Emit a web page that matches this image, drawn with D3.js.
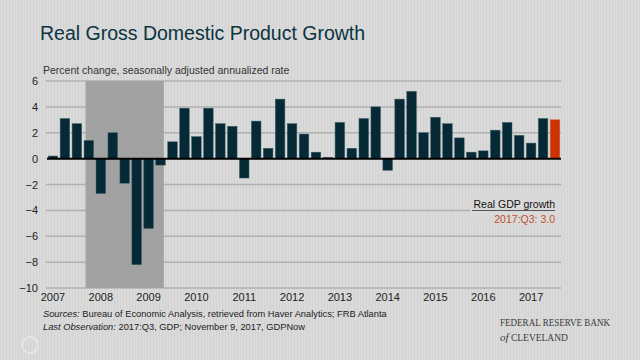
<!DOCTYPE html>
<html>
<head>
<meta charset="utf-8">
<script src="https://cdn.jsdelivr.net/npm/d3@7"></script>
<style>
  html, body { margin: 0; padding: 0; background: #d9d9d9; }
  svg { display: block; }
</style>
</head>
<body>
<svg id="chart" width="640" height="360"></svg>
<script>
// ---- data ----
const quarters = [
  "2007:Q1","2007:Q2","2007:Q3","2007:Q4",
  "2008:Q1","2008:Q2","2008:Q3","2008:Q4",
  "2009:Q1","2009:Q2","2009:Q3","2009:Q4",
  "2010:Q1","2010:Q2","2010:Q3","2010:Q4",
  "2011:Q1","2011:Q2","2011:Q3","2011:Q4",
  "2012:Q1","2012:Q2","2012:Q3","2012:Q4",
  "2013:Q1","2013:Q2","2013:Q3","2013:Q4",
  "2014:Q1","2014:Q2","2014:Q3","2014:Q4",
  "2015:Q1","2015:Q2","2015:Q3","2015:Q4",
  "2016:Q1","2016:Q2","2016:Q3","2016:Q4",
  "2017:Q1","2017:Q2","2017:Q3"
];
const gdpGrowth = [
  0.2, 3.1, 2.7, 1.4,
  -2.7, 2.0, -1.9, -8.2,
  -5.4, -0.5, 1.3, 3.9,
  1.7, 3.9, 2.7, 2.5,
  -1.5, 2.9, 0.8, 4.6,
  2.7, 1.9, 0.5, 0.1,
  2.8, 0.8, 3.1, 4.0,
  -0.9, 4.6, 5.2, 2.0,
  3.2, 2.7, 1.6, 0.5,
  0.6, 2.2, 2.8, 1.8,
  1.2, 3.1, 3.0
];
const highlightQuarter = "2017:Q3";
const recessionStart = "2007:Q4";
const recessionEnd = "2009:Q2";
const yTicks = [-10, -8, -6, -4, -2, 0, 2, 4, 6];
const yearLabels = ["2007","2008","2009","2010","2011","2012","2013","2014","2015","2016","2017"];

const titleText = "Real Gross Domestic Product Growth";
const subtitleText = "Percent change, seasonally adjusted annualized rate";
const legendTitle = "Real GDP growth";
const legendValue = "2017:Q3: 3.0";

const data = quarters.map((q, i) => ({ q, v: gdpGrowth[i] }));

// ---- layout ----
const svg = d3.select("#chart");
const W = 640, H = 360;
const plot = { left: 47, right: 561, top: 81, bottom: 288 };

// background with faint vertical stripes
const defs = svg.append("defs");
const pat = defs.append("pattern").attr("id", "stripes")
  .attr("width", 3).attr("height", 10).attr("patternUnits", "userSpaceOnUse");
pat.append("rect").attr("width", 3).attr("height", 10).attr("fill", "#dadada");
pat.append("rect").attr("width", 1).attr("height", 10).attr("fill", "#d3d3d3");
svg.append("rect").attr("width", W).attr("height", H).attr("fill", "url(#stripes)");

const x = d3.scaleBand().domain(quarters).range([plot.left, plot.right])
  .paddingInner(0.2).paddingOuter(0.1);
const y = d3.scaleLinear().domain([-10, 6]).range([plot.bottom, plot.top]);

const font = "Liberation Sans, Arial, Helvetica, sans-serif";

// title
svg.append("text").attr("x", 40).attr("y", 40)
  .attr("font-family", font).attr("font-size", 19.5).attr("fill", "#0b3441")
  .text(titleText);
svg.append("text").attr("x", 43).attr("y", 74)
  .attr("font-family", font).attr("font-size", 10.5).attr("fill", "#333")
  .text(subtitleText);

// gridlines
svg.append("g").selectAll("line").data(yTicks.filter(t => t !== 0)).join("line")
  .attr("x1", plot.left - 1).attr("x2", plot.right)
  .attr("y1", d => y(d)).attr("y2", d => y(d))
  .attr("stroke", "#b0b0b0").attr("stroke-width", 1.5);

// recession shading
svg.append("rect")
  .attr("x", x(recessionStart) + 1.5)
  .attr("y", y(6))
  .attr("width", x(recessionEnd) + x.bandwidth() - x(recessionStart) - 3)
  .attr("height", y(-10) - y(6))
  .attr("fill", "#a2a2a2");

// y axis labels
const yAxis = d3.axisLeft(y).tickValues(yTicks).tickSize(0).tickPadding(0).tickFormat(d3.format("d"));
const gy = svg.append("g").attr("transform", "translate(38,0)").call(yAxis);
gy.select(".domain").remove();
gy.selectAll("text").attr("font-family", font).attr("font-size", 11).attr("fill", "#222");

// bars
svg.append("g").selectAll("rect").data(data).join("rect")
  .attr("x", d => x(d.q))
  .attr("width", x.bandwidth())
  .attr("y", d => y(Math.max(0, d.v)))
  .attr("height", d => Math.abs(y(d.v) - y(0)))
  .attr("fill", d => d.q === highlightQuarter ? "#cc3300" : "#062a35")
  .attr("stroke", d => d.q === highlightQuarter ? "#d65a33" : "#3d5f68")
  .attr("stroke-width", 0.5);

// zero line
svg.append("line")
  .attr("x1", plot.left).attr("x2", plot.right)
  .attr("y1", y(0)).attr("y2", y(0))
  .attr("stroke", "#000").attr("stroke-width", 2);

// x axis year labels centered on Q1 bars
const xAxis = d3.axisBottom(x)
  .tickValues(yearLabels.map(yr => yr + ":Q1"))
  .tickSize(0).tickPadding(0)
  .tickFormat(d => d.slice(0, 4));
const gx = svg.append("g").attr("transform", `translate(0,${plot.bottom + 5})`).call(xAxis);
gx.select(".domain").remove();
gx.selectAll("text").attr("font-family", font).attr("font-size", 11).attr("fill", "#222");

// legend box
const lg = svg.append("g");
lg.append("rect").attr("x", 470).attr("y", 197).attr("width", 91).attr("height", 27).attr("fill", "#d9d9d9");
lg.append("text").attr("x", 555).attr("y", 208).attr("text-anchor", "end")
  .attr("font-family", font).attr("font-size", 10.5).attr("fill", "#111")
  .text(legendTitle);
lg.append("line").attr("x1", 472).attr("x2", 555).attr("y1", 210.5).attr("y2", 210.5)
  .attr("stroke", "#333").attr("stroke-width", 0.8);
lg.append("text").attr("x", 555).attr("y", 223).attr("text-anchor", "end")
  .attr("font-family", font).attr("font-size", 10.5).attr("fill", "#c0502a")
  .text(legendValue);

// sources
const src = svg.append("text").attr("x", 43).attr("y", 317)
  .attr("font-family", font).attr("font-size", 9.3).attr("fill", "#222");
src.append("tspan").attr("font-style", "italic").text("Sources:");
src.append("tspan").text(" Bureau of Economic Analysis, retrieved from Haver Analytics; FRB Atlanta");
const obs = svg.append("text").attr("x", 43).attr("y", 330)
  .attr("font-family", font).attr("font-size", 9.3).attr("fill", "#222");
obs.append("tspan").attr("font-style", "italic").text("Last Observation:");
obs.append("tspan").text(" 2017:Q3, GDP; November 9, 2017, GDPNow");

// logo
const serif = "Liberation Serif, Times New Roman, serif";
svg.append("text").attr("x", 500).attr("y", 326)
  .attr("font-family", serif).attr("font-size", 9.5).attr("fill", "#3a3a3a")
  .attr("textLength", 110).attr("lengthAdjust", "spacingAndGlyphs")
  .text("FEDERAL RESERVE BANK");
const lg2 = svg.append("text").attr("x", 500).attr("y", 341)
  .attr("font-family", serif).attr("font-size", 9.5).attr("fill", "#3a3a3a");
lg2.append("tspan").attr("font-style", "italic").attr("font-size", 11).text("of");
lg2.append("tspan").text(" CLEVELAND");

// faint circle bottom-left
svg.append("circle").attr("cx", 30).attr("cy", 345).attr("r", 8)
  .attr("fill", "none").attr("stroke", "#e6e6e6").attr("stroke-width", 2);
</script>
</body>
</html>
